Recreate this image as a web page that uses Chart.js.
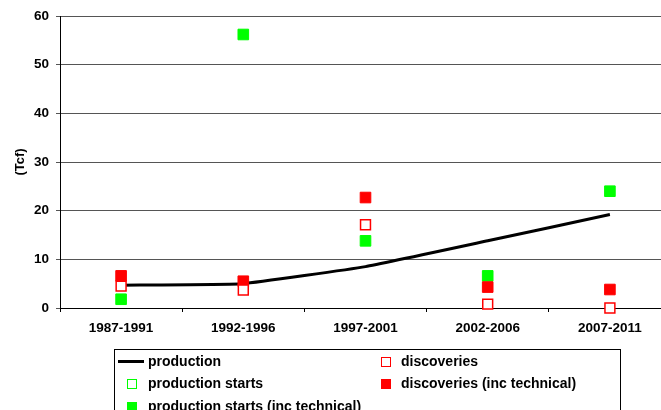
<!DOCTYPE html>
<html><head><meta charset="utf-8">
<script src="https://cdn.jsdelivr.net/npm/chart.js@4/dist/chart.umd.min.js"></script>
<style>
html,body{margin:0;padding:0;background:#fff;overflow:hidden;width:661px;height:410px}
#wrap{position:relative;width:661px;height:410px;overflow:hidden}
canvas{position:absolute;left:0;top:0}
#legend{position:absolute;left:114px;top:349px;width:505px;height:80px;border:1px solid #000;font:bold 14px "Liberation Sans",Arial,sans-serif;color:#000}
.item{position:absolute;height:18px;line-height:18px;white-space:nowrap}
.mk{position:absolute;box-sizing:border-box}
</style></head><body>
<div id="wrap"><canvas id="c" width="680" height="410"></canvas><div id="legend"></div></div>
<script>
// ---- data ----
const categories = ['1987-1991', '1992-1996', '1997-2001', '2002-2006', '2007-2011'];
const production = [4.7, 5.0, 8.5, 13.8, 19.2];
const productionStarts = [null, null, null, null, null];
const productionStartsIncTechnical = [1.8, 56.2, 13.8, 6.6, 24.0];
const discoveries = [4.5, 3.7, 17.1, 0.8, 0.0];
const discoveriesIncTechnical = [6.6, 5.5, 22.7, 4.3, 3.8];
const yMin = 0, yMax = 60, yStep = 10;
const yTitle = '(Tcf)';

const FONT = '"Liberation Sans", Arial, sans-serif';
const GREEN = '#00ff00', RED = '#ff0000';

const datasets = [
  {label:'production', data:production, borderColor:'#000', backgroundColor:'#000', borderWidth:3, pointRadius:0, tension:0.1, fill:false, order:5, clip:false},
  {label:'production starts', data:productionStarts, showLine:false, pointStyle:'rect', pointRadius:7, borderWidth:1.5, borderColor:GREEN, backgroundColor:'#fff', order:4, clip:false},
  {label:'production starts (inc technical)', data:productionStartsIncTechnical, showLine:false, pointStyle:'rect', pointRadius:7.5, borderWidth:1, borderColor:GREEN, backgroundColor:GREEN, order:3, clip:false},
  {label:'discoveries (inc technical)', data:discoveriesIncTechnical, showLine:false, pointStyle:'rect', pointRadius:7.5, borderWidth:1, borderColor:RED, backgroundColor:RED, order:2, clip:false},
  {label:'discoveries', data:discoveries, showLine:false, pointStyle:'rect', pointRadius:7, borderWidth:1.5, borderColor:RED, backgroundColor:'#fff', order:1, clip:false}
];

new Chart(document.getElementById('c').getContext('2d'), {
  type:'line',
  data:{labels:categories, datasets:datasets},
  options:{
    responsive:false, animation:false,
    layout:{padding:{top:16, right:9, left:0, bottom:0}},
    plugins:{legend:{display:false}, tooltip:{enabled:false}},
    scales:{
      x:{
        offset:true,
        grid:{offset:true, drawOnChartArea:false, drawTicks:true, tickLength:4, color:'#000'},
        border:{color:'#000', width:1},
        ticks:{color:'#000', font:{family:FONT, size:13.5, weight:'bold'}, padding:8, maxRotation:0, autoSkip:false},
        afterFit(s){ s.height = 102; }
      },
      y:{
        min:yMin, max:yMax,
        ticks:{stepSize:yStep, color:'#000', font:{family:FONT, size:13.5, weight:'bold'}, padding:7},
        grid:{color:'#555', tickLength:4, drawTicks:true},
        border:{color:'#000', width:1},
        title:{display:true, text:yTitle, color:'#000', font:{family:FONT, size:13, weight:'bold'}, padding:{top:13, bottom:0}},
        afterFit(s){ s.width = 60; }
      }
    }
  }
});

// ---- HTML legend (layout like the reference) ----
const legendPos = {
  'production': {x:3, y:2, text:33},
  'production starts': {x:12, y:24, text:33},
  'production starts (inc technical)': {x:12, y:47, text:33},
  'discoveries': {x:266, y:2, text:286},
  'discoveries (inc technical)': {x:266, y:24, text:286}
};
const lg = document.getElementById('legend');
datasets.forEach(ds => {
  const p = legendPos[ds.label];
  const it = document.createElement('div');
  it.className = 'item';
  it.style.left = '0px'; it.style.top = p.y + 'px'; it.style.width = '400px';
  const mk = document.createElement('div');
  mk.className = 'mk';
  if (ds.showLine === false) {
    mk.style.left = p.x + 'px'; mk.style.top = '5px';
    mk.style.width = '10px'; mk.style.height = '10px';
    mk.style.background = ds.backgroundColor;
    mk.style.border = '1px solid ' + ds.borderColor;
  } else {
    mk.style.left = p.x + 'px'; mk.style.top = '8px';
    mk.style.width = '26px'; mk.style.height = '3px';
    mk.style.background = ds.borderColor;
  }
  const tx = document.createElement('span');
  tx.style.position = 'absolute'; tx.style.left = p.text + 'px'; tx.style.top = '0px';
  tx.textContent = ds.label;
  it.appendChild(mk); it.appendChild(tx);
  lg.appendChild(it);
});
</script>
</body></html>
